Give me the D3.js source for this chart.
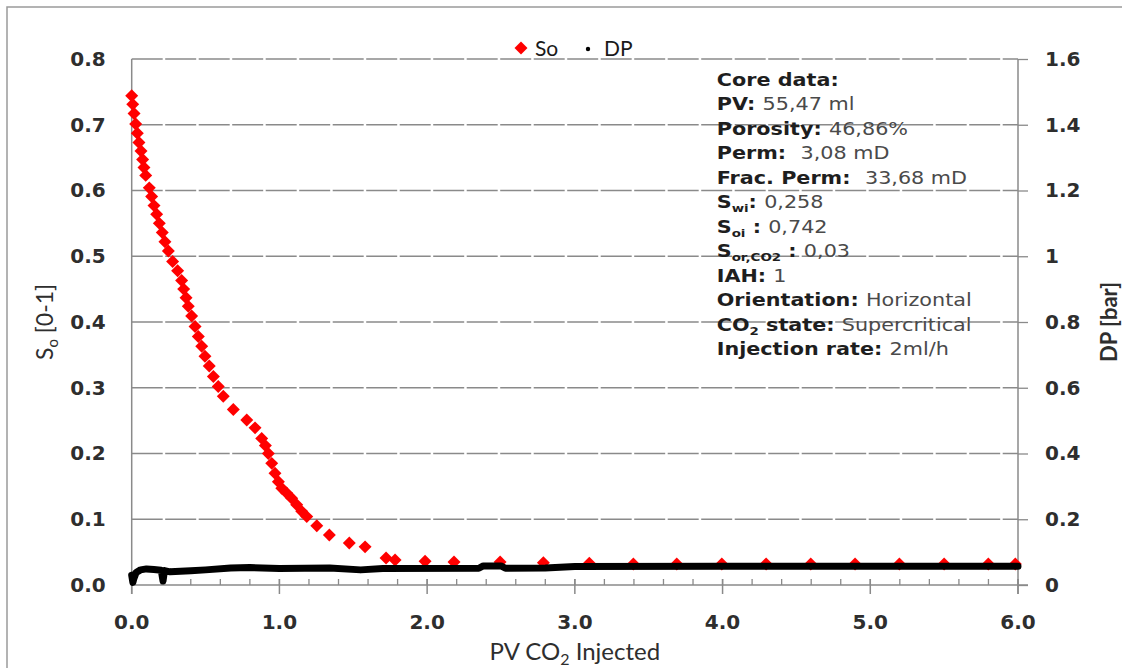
<!DOCTYPE html>
<html>
<head>
<meta charset="utf-8">
<script src="https://cdn.jsdelivr.net/npm/d3@7"></script>
<style>
  html, body { margin: 0; padding: 0; background: #fff; }
  svg { display: block; }
  text { white-space: pre; }
</style>
</head>
<body>
<svg id="chart" width="1122" height="668"></svg>
<script>
// Oil saturation (So) vs. pore volumes of CO2 injected
const soPV = [0.000, 0.007, 0.016, 0.027, 0.038, 0.049, 0.063, 0.074, 0.083, 0.095,
  0.119, 0.135, 0.151, 0.169, 0.187, 0.207, 0.225, 0.248, 0.277, 0.311,
  0.338, 0.352, 0.368, 0.383, 0.406, 0.429, 0.451, 0.474, 0.496, 0.525,
  0.553, 0.586, 0.620, 0.688, 0.779, 0.835, 0.880, 0.905, 0.925, 0.948,
  0.970, 0.993, 1.016, 1.049, 1.083, 1.117, 1.151, 1.185, 1.253, 1.338,
  1.473, 1.580, 1.722, 1.783, 1.986, 2.182, 2.494, 2.787, 3.098, 3.396,
  3.690, 3.995, 4.295, 4.597, 4.897, 5.197, 5.500, 5.799, 5.982];
const soValues = [0.744, 0.731, 0.717, 0.701, 0.687, 0.673, 0.660, 0.647, 0.635, 0.623,
  0.604, 0.591, 0.577, 0.564, 0.550, 0.536, 0.522, 0.508, 0.492, 0.478,
  0.463, 0.450, 0.437, 0.424, 0.409, 0.393, 0.378, 0.363, 0.348, 0.333,
  0.317, 0.302, 0.287, 0.267, 0.251, 0.239, 0.223, 0.212, 0.200, 0.185,
  0.170, 0.157, 0.147, 0.140, 0.132, 0.122, 0.112, 0.104, 0.090, 0.076,
  0.064, 0.058, 0.041, 0.038, 0.036, 0.035, 0.035, 0.034, 0.033, 0.032,
  0.032, 0.032, 0.032, 0.032, 0.032, 0.032, 0.032, 0.032, 0.032];

// Differential pressure (bar) vs. pore volumes injected
const dpPV = [0.000, 0.008, 0.015, 0.030, 0.060, 0.100, 0.150, 0.200, 0.212, 0.222,
  0.260, 0.400, 0.500, 0.670, 0.800, 1.000, 1.340, 1.550, 1.700, 2.350,
  2.380, 2.500, 2.530, 2.800, 3.000, 4.000, 5.000, 6.000];
const dpValues = [0.030, 0.008, 0.020, 0.038, 0.046, 0.049, 0.047, 0.045, 0.012, 0.044,
  0.040, 0.043, 0.046, 0.052, 0.053, 0.050, 0.052, 0.046, 0.050, 0.051,
  0.058, 0.058, 0.051, 0.052, 0.056, 0.057, 0.057, 0.057];

// Axis ticks
const xTicks = [0, 1, 2, 3, 4, 5, 6];
const xMinorTicks = d3.range(0, 30.5, 1).map(d => d / 5);
const soTicks = [0, 0.1, 0.2, 0.3, 0.4, 0.5, 0.6, 0.7, 0.8];
const dpTicks = [0, 0.2, 0.4, 0.6, 0.8, 1, 1.2, 1.4, 1.6];

// Core data text block: [label, value] rows, labels may carry subscripts
const coreLines = [
  [{t: "Core data:", b: true}],
  [{t: "PV: ", b: true}, {t: "55,47 ml"}],
  [{t: "Porosity: ", b: true}, {t: "46,86%"}],
  [{t: "Perm:  ", b: true}, {t: "3,08 mD"}],
  [{t: "Frac. Perm:  ", b: true}, {t: "33,68 mD"}],
  [{t: "S", b: true}, {t: "wi", b: true, sub: true}, {t: ": ", b: true}, {t: "0,258"}],
  [{t: "S", b: true}, {t: "oi", b: true, sub: true}, {t: " : ", b: true}, {t: "0,742"}],
  [{t: "S", b: true}, {t: "or,CO2", b: true, sub: true}, {t: " : ", b: true}, {t: "0,03"}],
  [{t: "IAH: ", b: true}, {t: "1"}],
  [{t: "Orientation: ", b: true}, {t: "Horizontal"}],
  [{t: "CO", b: true}, {t: "2", b: true, sub: true}, {t: " state: ", b: true}, {t: "Supercritical"}],
  [{t: "Injection rate: ", b: true}, {t: "2ml/h"}]
];

const svg = d3.select("#chart");
const axisColor = "#8a8a8a";
const tickFont = "'DejaVu Sans', Verdana, sans-serif";
const titleFont = "Lato, 'Open Sans', sans-serif";
const textColor = "#2e2e2e";

// Outer frame
svg.append("rect")
  .attr("x", 7).attr("y", 7).attr("width", 1140).attr("height", 700)
  .attr("fill", "none").attr("stroke", "#9a9a9a").attr("stroke-width", 1.5);

const x = d3.scaleLinear().domain([0, 6]).range([131.7, 1018]);
const ySo = d3.scaleLinear().domain([0, 0.8]).range([585, 59]);
const yDp = d3.scaleLinear().domain([0, 1.6]).range([585, 59]);

// Horizontal dashed gridlines
svg.append("g").selectAll("line")
  .data(soTicks.filter(d => d > 0))
  .join("line")
  .attr("x1", x(0)).attr("x2", x(6))
  .attr("y1", d => ySo(d)).attr("y2", d => ySo(d))
  .attr("stroke", axisColor).attr("stroke-width", 1.3)
  .attr("stroke-dasharray", "31,2.5");

// Left axis line, labels only
const gLeft = svg.append("g").attr("transform", `translate(${x(0)},0)`)
  .call(d3.axisLeft(ySo).tickValues(soTicks).tickFormat(d3.format(".1f"))
    .tickSize(0).tickPadding(26));
gLeft.select(".domain").attr("stroke", axisColor).attr("stroke-width", 1.5)
  .attr("d", `M0,${ySo(0.8)}V${ySo(0) + 9}`);
gLeft.selectAll("text").attr("font-family", tickFont).attr("font-weight", "bold")
  .attr("font-size", 20).attr("fill", textColor);

// Right axis with outward ticks
const gRight = svg.append("g").attr("transform", `translate(${x(6)},0)`)
  .call(d3.axisRight(yDp).tickValues(dpTicks).tickFormat(d => d3.format("~g")(d))
    .tickSize(10).tickPadding(17));
gRight.select(".domain").attr("stroke", axisColor).attr("stroke-width", 1.5)
  .attr("d", `M0,${yDp(1.6)}V${yDp(0) + 9}`);
gRight.selectAll(".tick line").attr("stroke", axisColor).attr("stroke-width", 1.3);
gRight.selectAll("text").attr("font-family", tickFont).attr("font-weight", "bold")
  .attr("font-size", 20).attr("fill", textColor);

// Bottom axis: minor ticks inside, major ticks crossing the line
const gBottom = svg.append("g").attr("transform", `translate(0,${ySo(0)})`);
gBottom.append("line").attr("x1", x(0)).attr("x2", x(6) + 10)
  .attr("stroke", axisColor).attr("stroke-width", 1.5);
gBottom.selectAll("line.minor").data(xMinorTicks).join("line").attr("class", "minor")
  .attr("x1", d => x(d)).attr("x2", d => x(d)).attr("y1", -6).attr("y2", 0)
  .attr("stroke", axisColor).attr("stroke-width", 1.3);
gBottom.selectAll("line.major").data(xTicks).join("line").attr("class", "major")
  .attr("x1", d => x(d)).attr("x2", d => x(d)).attr("y1", -6).attr("y2", 9)
  .attr("stroke", axisColor).attr("stroke-width", 1.5);
gBottom.selectAll("text").data(xTicks).join("text")
  .attr("x", d => x(d)).attr("y", 44).attr("text-anchor", "middle")
  .attr("font-family", tickFont).attr("font-weight", "bold").attr("font-size", 20)
  .attr("fill", textColor).text(d => d3.format(".1f")(d));

// So markers: red diamonds
const soData = soPV.map((p, i) => ({pv: p, v: soValues[i]}));
const diamond = d3.symbol().type(d3.symbolSquare).size(84);
svg.append("g").selectAll("path").data(soData).join("path")
  .attr("d", diamond)
  .attr("transform", d => `translate(${x(d.pv)},${ySo(d.v)}) rotate(45)`)
  .attr("fill", "#ff0000");

// DP trace: dense black markers merged into a thick band
const dpData = dpPV.map((p, i) => ({pv: p, v: dpValues[i]}));
svg.append("path").datum(dpData)
  .attr("d", d3.line().x(d => x(d.pv)).y(d => yDp(d.v)))
  .attr("fill", "none").attr("stroke", "#000").attr("stroke-width", 7)
  .attr("stroke-linejoin", "round").attr("stroke-linecap", "round");

// Legend
const leg = svg.append("g");
leg.append("path").attr("d", diamond).attr("transform", "translate(521,48) rotate(45)")
  .attr("fill", "#ff0000");
leg.append("text").attr("x", 535).attr("y", 56).text("So");
leg.append("circle").attr("cx", 588).attr("cy", 49).attr("r", 2.2).attr("fill", "#000");
leg.append("text").attr("x", 604).attr("y", 56).text("DP");
leg.selectAll("text").attr("font-family", titleFont).attr("font-size", 21).attr("fill", "#1a1a1a");

// Axis titles
const xTitle = svg.append("text").attr("x", x(3)).attr("y", 660).attr("text-anchor", "middle")
  .attr("font-family", titleFont).attr("font-size", 24).attr("fill", textColor);
xTitle.append("tspan").text("PV CO");
xTitle.append("tspan").attr("font-size", 16).attr("dy", 5).text("2");
xTitle.append("tspan").attr("dy", -5).text(" Injected");

const yTitle = svg.append("text").attr("transform", "translate(53,322) rotate(-90)")
  .attr("text-anchor", "middle").attr("font-family", titleFont).attr("font-size", 23)
  .attr("fill", textColor);
yTitle.append("tspan").text("S");
yTitle.append("tspan").attr("font-size", 15).attr("dy", 5).text("o");
yTitle.append("tspan").attr("dy", -5).text(" [0-1]");

svg.append("text").attr("transform", "translate(1117,322) rotate(-90)")
  .attr("text-anchor", "middle").attr("font-family", titleFont).attr("font-size", 22)
  .attr("font-weight", "bold").attr("fill", textColor).text("DP [bar]");

// Core data annotation
const note = svg.append("g").attr("transform", "translate(716.7,85.7) scale(1.22,1)")
  .attr("font-family", tickFont).attr("font-size", 17);
coreLines.forEach((segs, i) => {
  const t = note.append("text").attr("x", 0).attr("y", i * 24.5)
    .attr("xml:space", "preserve");
  segs.forEach((s, j) => {
    const prevSub = j > 0 && segs[j - 1].sub;
    const ts = t.append("tspan").text(s.t)
      .attr("font-weight", s.b ? "bold" : "normal")
      .attr("fill", s.b ? "#1e1e1e" : "#4a4a4a");
    if (s.sub) ts.attr("font-size", 11).attr("dy", 4);
    else if (prevSub) ts.attr("dy", -4);
  });
});
</script>
</body>
</html>
